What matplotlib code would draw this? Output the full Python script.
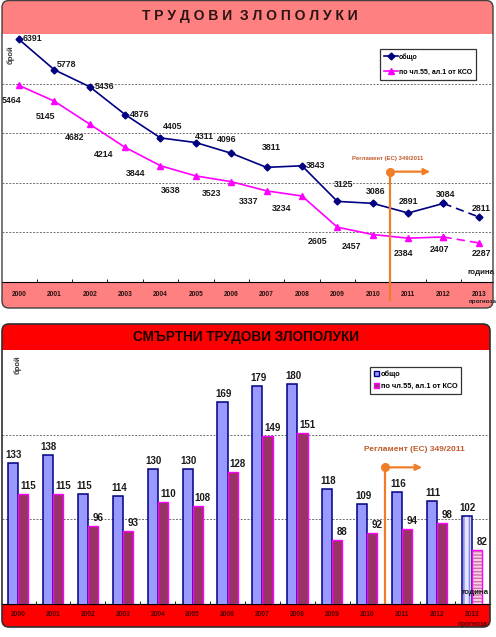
## accidents at work - two panels
import matplotlib.pyplot as plt
from matplotlib.patches import FancyBboxPatch, Rectangle
from matplotlib.transforms import blended_transform_factory
from matplotlib.lines import Line2D

years = [str(y) for y in range(2000, 2014)]
total_acc = [6391, 5778, 5436, 4876, 4405, 4311, 4096, 3811, 3843, 3125, 3086, 2891, 3084, 2811]
art55_acc = [5464, 5145, 4682, 4214, 3844, 3638, 3523, 3337, 3234, 2605, 2457, 2384, 2407, 2287]
total_fatal = [133, 138, 115, 114, 130, 130, 169, 179, 180, 118, 109, 116, 111, 102]
art55_fatal = [115, 115, 96, 93, 110, 108, 128, 149, 151, 88, 92, 94, 98, 82]
lab_total = 'общо'
lab_art55 = 'по чл.55, ал.1 от КСО'
reg_text = 'Регламент (ЕС) 349/2011'

plt.rcParams['font.family'] = ['Liberation Sans', 'DejaVu Sans']
plt.rcParams['font.weight'] = 'bold'
plt.rcParams['hatch.linewidth'] = 1.0

W, H = 496, 637
fig = plt.figure(figsize=(W / 100, H / 100), dpi=100, facecolor='w')

def fx(x):
    return x / W

def fy(y):
    return 1 - y / H

def panel(x0, y0, x1, y1, color, zorder, fill=True, ec='none', lw=0):
    p = FancyBboxPatch((x0 / 100, (H - y1) / 100), (x1 - x0) / 100, (y1 - y0) / 100,
                       boxstyle='round,pad=0,rounding_size=0.07', transform=fig.dpi_scale_trans,
                       fc=color if fill else 'none', ec=ec, lw=lw, zorder=zorder)
    fig.patches.append(p)

pink = '#FF8080'
red = '#FF0000'
orange = '#F07D28'
regcol = '#C05A2A'
navy = '#000080'
magenta = '#FF00FF'

# ---------- top panel ----------
panel(2, 0.5, 493, 308, pink, -2)
panel(2, 0.5, 493, 308, 'none', 10, fill=False, ec='#404040', lw=1.0)
fig.text(fx(250), fy(16), '  '.join(' '.join(w) for w in 'ТРУДОВИ ЗЛОПОЛУКИ'.split()),
         ha='center', va='center', fontsize=10, color='#2a1414')

ax = fig.add_axes([fx(2), fy(282), fx(491), (282 - 34) / H])
ax.set_facecolor('w')
ax.set_xlim(-0.48, 13.4)
ax.set_ylim(1500, 6500)
ax.set_yticks([2500, 3500, 4500, 5500])
ax.yaxis.grid(True, color='#707070', ls=(0, (2, 1.5)), lw=0.7)
ax.tick_params(axis='y', left=False, labelleft=False)
ax.set_xticks([i + 0.5 for i in range(13)])
ax.tick_params(axis='x', direction='in', length=2.5, width=0.6, labelbottom=False)
for s in ['top', 'right', 'left']:
    ax.spines[s].set_visible(False)
ax.spines['bottom'].set_linewidth(0.8)

x = list(range(len(years)))
ax.plot(x[:13], total_acc[:13], color=navy, lw=1.2, marker='D', ms=3.5, zorder=4)
ax.plot(x[12:], total_acc[12:], color=navy, lw=1.2, ls=(0, (5, 3)), marker='D', ms=3.5, zorder=4)
ax.plot(x[:13], art55_acc[:13], color=magenta, lw=1.2, marker='^', ms=4.5, zorder=4)
ax.plot(x[12:], art55_acc[12:], color=magenta, lw=1.2, ls=(0, (5, 3)), marker='^', ms=4.5, zorder=4)

# label offsets in pixels (label centre minus point)
off_total = [(13, 1), (12, 5), (15, 0), (15, 0), (12, 11), (9, 6), (-5, 14), (5, 20),
             (14, 0), (6, 17), (3, 12), (0, 12), (2, 9), (2, 8)]
off_art55 = [(-7, -15), (-9, -15), (-15, -13), (-21, -7), (-25, -8), (-25, -15), (-20, -12),
             (-18, -11), (-20, -13), (-20, -14), (-21, -12), (-5, -15), (-4, -12), (3, -11)]
for i in x:
    ax.annotate(str(total_acc[i]), (i, total_acc[i]), xytext=off_total[i], textcoords='offset pixels',
                ha='center', va='center', fontsize=6.3, color='#1a1a1a', zorder=6)
    ax.annotate(str(art55_acc[i]), (i, art55_acc[i]), xytext=off_art55[i],
                textcoords='offset pixels', ha='center', va='center', fontsize=6.3, color='#1a1a1a', zorder=6)

# regulation marker
ax.plot([10.5, 10.5], [3725, 1136], color=orange, lw=1.6, clip_on=False, zorder=5)
ax.plot(10.5, 3725, 'o', ms=5.5, color=orange, zorder=5)
ax.annotate('', xy=(11.7, 3725), xytext=(10.5, 3725),
            arrowprops=dict(arrowstyle='-|>', color=orange, lw=1.6, mutation_scale=9), zorder=5)
ax.text(10.42, 3990, reg_text, ha='center', va='center', fontsize=4.3, color=regcol)

fig.text(fx(11), fy(55), 'брой', rotation=90, ha='center', va='center', fontsize=5.5, color='#333333')
fig.text(fx(495), fy(272), 'година', ha='right', va='center', fontsize=5.8, color='#1a1a1a')

tr = blended_transform_factory(ax.transData, fig.transFigure)
for i, yr in enumerate(years):
    ax.text(i, fy(294), yr, transform=tr, ha='center', va='center', fontsize=4.8, color='#2a1010')
ax.text(13.1, fy(301), 'прогноза', transform=tr, ha='center', va='center', fontsize=4.5, color='#1a1a1a')

h1 = Line2D([], [], color=navy, lw=1.2, marker='D', ms=3.5)
h2 = Line2D([], [], color=magenta, lw=1.2, marker='^', ms=4.5)
leg = ax.legend([h1, h2], [lab_total, lab_art55], loc='upper left', bbox_to_anchor=(fx(380), fy(49)),
                bbox_transform=fig.transFigure, fontsize=5.0, frameon=True, fancybox=False,
                handlelength=2.0, handletextpad=0.1, borderpad=0.6, labelspacing=1.1, borderaxespad=0)
leg.get_frame().set_edgecolor('k')
leg.get_frame().set_linewidth(0.9)

# ---------- bottom panel ----------
panel(2, 324, 490, 627, red, -2)
panel(2, 324, 490, 627, 'none', 10, fill=False, ec='#303030', lw=1.2)
fig.text(fx(246), fy(337), 'СМЪРТНИ ТРУДОВИ ЗЛОПОЛУКИ', ha='center', va='center',
         fontsize=9.8, color='#1a0000')

bx = fig.add_axes([fx(2), fy(604), fx(488), (604 - 350) / H])
bx.set_facecolor('w')
bx.set_xlim(-0.46, 13.515)
bx.set_ylim(50, 200)
bx.set_yticks([100, 150])
bx.yaxis.grid(True, color='#707070', ls=(0, (2, 1.5)), lw=0.7)
bx.set_axisbelow(True)
bx.tick_params(axis='y', left=False, labelleft=False)
bx.set_xticks([i + 0.5 for i in range(13)])
bx.tick_params(axis='x', direction='in', length=2.5, width=0.6, labelbottom=False)
for s in ['top', 'right', 'left']:
    bx.spines[s].set_visible(False)
bx.spines['bottom'].set_linewidth(0.9)

bw = 0.29
xb1 = [i - bw / 2 for i in x]
xb2 = [i + bw / 2 for i in x]
bx.bar(xb1[:13], total_fatal[:13], bw, color='#9999FF', edgecolor=navy, lw=1.1, zorder=3)
bx.bar(xb2[:13], art55_fatal[:13], bw, color='#993366', edgecolor=magenta, lw=1.0, zorder=3)
bx.bar(xb1[13], total_fatal[13], bw, color='#E4E4FF', edgecolor='#8080E8', lw=0, hatch='|||', zorder=3)
bx.bar(xb1[13], total_fatal[13], bw, fill=False, edgecolor=navy, lw=1.1, zorder=3)
bx.bar(xb2[13], art55_fatal[13], bw, color='#F4D0E4', edgecolor='#D070A8', lw=0, hatch='-----', zorder=3)
bx.bar(xb2[13], art55_fatal[13], bw, fill=False, edgecolor=magenta, lw=1.0, zorder=3)

for i in x:
    bx.annotate(str(total_fatal[i]), (xb1[i], total_fatal[i]), xytext=(1, 3), textcoords='offset pixels',
                ha='center', va='bottom', fontsize=7, color='#1a1a1a', zorder=6)
    bx.annotate(str(art55_fatal[i]), (xb2[i], art55_fatal[i]), xytext=(5, 3), textcoords='offset pixels',
                ha='center', va='bottom', fontsize=7, color='#1a1a1a', zorder=6)

bx.plot([10.5, 10.5], [130.7, 50], color=orange, lw=1.6, zorder=5)
bx.plot(10.5, 130.7, 'o', ms=5.5, color=orange, zorder=5)
bx.annotate('', xy=(11.65, 130.7), xytext=(10.5, 130.7),
            arrowprops=dict(arrowstyle='-|>', color=orange, lw=1.6, mutation_scale=9), zorder=5)
bx.text(11.36, 141.3, reg_text, ha='center', va='center', fontsize=6, color=regcol)

fig.text(fx(18), fy(365), 'брой', rotation=90, ha='center', va='center', fontsize=5.5, color='#333333')
bx.text(13.1, 57, 'година', ha='center', va='center', fontsize=5.8, color='#1a1a1a', zorder=7)

tr2 = blended_transform_factory(bx.transData, fig.transFigure)
for i, yr in enumerate(years):
    bx.text(i, fy(615), yr, transform=tr2, ha='center', va='center', fontsize=4.8, color='#500000')
bx.text(13, fy(624), 'прогноза', transform=tr2, ha='center', va='center', fontsize=4.8, color='#500000')

p1 = Rectangle((0, 0), 1, 1, fc='#9999FF', ec=navy, lw=1)
p2 = Rectangle((0, 0), 1, 1, fc='#993366', ec=magenta, lw=1)
leg2 = bx.legend([p1, p2], [lab_total, lab_art55], loc='upper left', bbox_to_anchor=(fx(370), fy(367)),
                 bbox_transform=fig.transFigure, fontsize=5.3, frameon=True, fancybox=False,
                 handlelength=0.7, handleheight=0.7, handletextpad=0.3, borderpad=0.5, labelspacing=0.6,
                 borderaxespad=0)
leg2.get_frame().set_edgecolor('k')
leg2.get_frame().set_linewidth(0.9)

fig.savefig('out.png', dpi=100)
